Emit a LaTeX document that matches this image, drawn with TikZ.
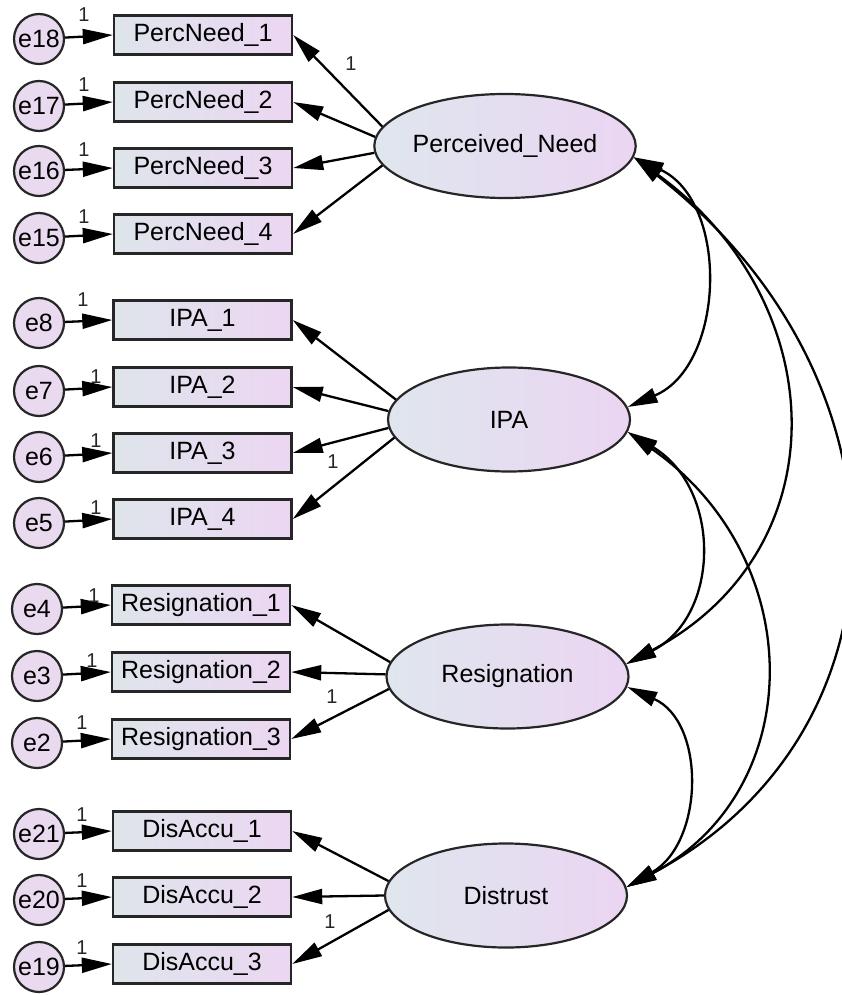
\documentclass[tikz,border=0pt]{standalone}
\usepackage{fontspec}
\setmainfont{Liberation Sans}
\usetikzlibrary{shapes.geometric,arrows.meta}

\definecolor{linec}{HTML}{262626}
\definecolor{lblue}{HTML}{DFE6EE}
\definecolor{lpink}{HTML}{EBD5F2}
\definecolor{bblue}{HTML}{DEE5EB}
\definecolor{bpink}{HTML}{ECD6F2}
\definecolor{epink}{HTML}{E9DAF0}

\tikzset{
  latent/.style={ellipse, draw=linec, line width=2.2pt, minimum width=242pt,
    minimum height=104pt, inner sep=0pt, left color=lblue, right color=lpink,
    font=\fontsize{25}{30}\selectfont},
  obs/.style={rectangle, draw=linec, line width=2.4pt, minimum width=178pt,
    minimum height=39pt, inner sep=0pt, left color=bblue, right color=bpink,
    font=\fontsize{25}{30}\selectfont},
  err/.style={circle, draw=linec, line width=2.2pt, minimum size=50pt,
    inner sep=0pt, fill=epink, font=\fontsize{25}{30}\selectfont},
  tipa/.tip={Triangle[length=30pt,width=15pt]},
  load/.style={-tipa, line width=2.3pt, draw=black},
  cov/.style={tipa-tipa, line width=2.3pt, draw=black},
  one/.style={font=\fontsize{20}{24}\selectfont, inner sep=0pt, text=black!85},
}

\begin{document}
\begin{tikzpicture}[x=1pt,y=1pt]
\useasboundingbox (0,0) rectangle (842,-995);

% latent variables
\node[latent] (pn)  at (505,-146)   {Perceived\_Need};
\node[latent] (ipa) at (509,-419.5) {IPA};
\node[latent] (res) at (507.5,-676.5) {Resignation};
\node[latent] (dis) at (506,-895.5) {Distrust};

% observed indicators
\node[obs] (pn1) at (203,-35)  {PercNeed\_1};
\node[obs] (pn2) at (203,-102) {PercNeed\_2};
\node[obs] (pn3) at (203,-168) {PercNeed\_3};
\node[obs] (pn4) at (203,-234) {PercNeed\_4};

\node[obs] (ipa1) at (202.5,-320) {IPA\_1};
\node[obs] (ipa2) at (202.5,-387) {IPA\_2};
\node[obs] (ipa3) at (202.5,-453) {IPA\_3};
\node[obs] (ipa4) at (202.5,-519) {IPA\_4};

\node[obs] (res1) at (201,-605) {Resignation\_1};
\node[obs] (res2) at (201,-672) {Resignation\_2};
\node[obs] (res3) at (201,-739) {Resignation\_3};

\node[obs] (dis1) at (202,-831) {DisAccu\_1};
\node[obs] (dis2) at (202,-897) {DisAccu\_2};
\node[obs] (dis3) at (202,-964) {DisAccu\_3};

% error terms
\node[err] (e18) at (39,-39)  {e18};
\node[err] (e17) at (39,-106) {e17};
\node[err] (e16) at (39,-171) {e16};
\node[err] (e15) at (39,-238) {e15};
\node[err] (e8)  at (39,-323) {e8};
\node[err] (e7)  at (39,-391) {e7};
\node[err] (e6)  at (39,-457) {e6};
\node[err] (e5)  at (39,-523) {e5};
\node[err] (e4)  at (37,-609) {e4};
\node[err] (e3)  at (37,-676) {e3};
\node[err] (e2)  at (37,-743) {e2};
\node[err] (e21) at (39,-834) {e21};
\node[err] (e20) at (39,-900) {e20};
\node[err] (e19) at (39,-967) {e19};

% error paths
\foreach \e/\o in {e18/pn1,e17/pn2,e16/pn3,e15/pn4,e8/ipa1,e7/ipa2,e6/ipa3,e5/ipa4,
                   e4/res1,e3/res2,e2/res3,e21/dis1,e20/dis2,e19/dis3}
  \draw[load] (\e) -- (\o.west);

% factor loadings
\draw[load] (pn.171) -- (pn1.east);
\draw[load] (pn.176) -- (pn2.east);
\draw[load] (pn.183) -- (pn3.east);
\draw[load] (pn.189) -- (pn4.east);
\draw[load] (ipa.170.5) -- (ipa1.east);
\draw[load] (ipa.176.5) -- (ipa2.east);
\draw[load] (ipa.184) -- (ipa3.east);
\draw[load] (ipa.189) -- (ipa4.east);
\draw[load] (res.173) -- (res1.east);
\draw[load] (res.179.3) -- (res2.east);
\draw[load] (res.186.5) -- (res3.east);
\draw[load] (dis.173) -- (dis1.east);
\draw[load] (dis.180) -- (dis2.east);
\draw[load] (dis.187) -- (dis3.east);

% covariances
\draw[cov] (pn.-5) .. controls +(-25:106) and +(23:106) .. (ipa.6);
\draw[cov] (pn.-5) .. controls +(-36:245) and +(28:245) .. (res.6);
\draw[cov] (pn.-5) .. controls +(-38:365) and +(28:326) .. (dis.4);
\draw[cov] (ipa.-6) .. controls +(-31:110) and +(27:106) .. (res.6);
\draw[cov] (ipa.-6) .. controls +(-35:222) and +(28:206) .. (dis.4);
\draw[cov] (res.-5.5) .. controls +(-24:86) and +(30:90) .. (dis.4);

% fixed-parameter labels
\node[one] (w18) at (84,-15)  {1};
\node[one] (w17) at (84,-85)  {1};
\node[one] (w16) at (84,-150) {1};
\node[one] (w15) at (84,-217) {1};
\node[one] (w8)  at (83,-300) {1};
\node[one] (w7)  at (96,-377) {1};
\node[one] (w6)  at (96,-441) {1};
\node[one] (w5)  at (96,-508) {1};
\node[one] (w4)  at (94,-596) {1};
\node[one] (w3)  at (92,-661) {1};
\node[one] (w2)  at (82,-723) {1};
\node[one] (w21) at (82,-815) {1};
\node[one] (w20) at (82,-881) {1};
\node[one] (w19) at (82,-948) {1};
\node[one] (lpn)  at (351,-64)  {1};
\node[one] (lipa) at (333,-462) {1};
\node[one] (lres) at (332,-697) {1};
\node[one] (ldis) at (330,-922) {1};
\end{tikzpicture}
\end{document}
